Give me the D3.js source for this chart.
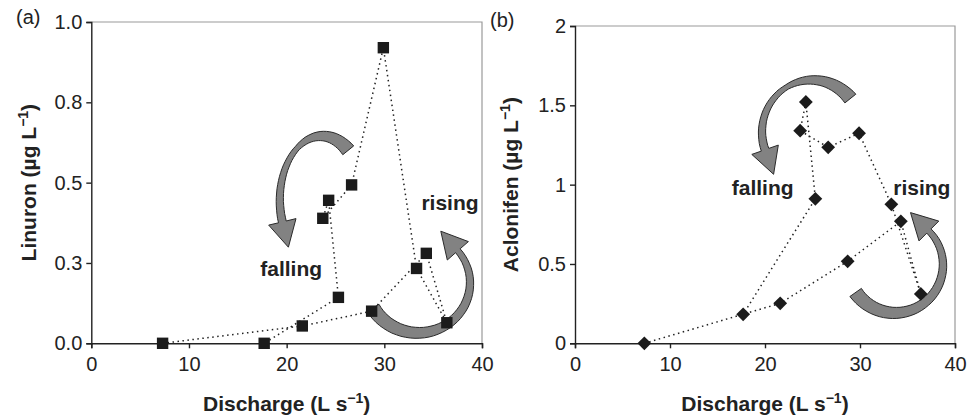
<!DOCTYPE html>
<html>
<head>
<meta charset="utf-8">
<script src="https://cdn.jsdelivr.net/npm/d3@7"></script>
<style>
  body { margin: 0; background: #fff; }
  text { font-family: "Liberation Sans", Arial, sans-serif; fill: #222; }
</style>
</head>
<body>
<div class="chart"></div>
<script>
// sampling order along the storm event (same discharge samples for both panels)
const discharge = [7.3, 21.6, 28.7, 34.3, 36.4, 33.3, 29.9, 26.65, 23.7, 24.3, 25.3, 17.7];
const linuron   = [0, 0.054, 0.10, 0.28, 0.064, 0.233, 0.92, 0.493, 0.389, 0.445, 0.143, 0];
const aclonifen = [0, 0.252, 0.517, 0.769, 0.311, 0.876, 1.324, 1.235, 1.34, 1.521, 0.911, 0.183];

const xTicks = [0, 10, 20, 30, 40];
const linuronTicks = [0, 0.25, 0.5, 0.75, 1];
const linuronTickLabels = ["0.0", "0.3", "0.5", "0.8", "1.0"];
const aclonifenTicks = [0, 0.5, 1, 1.5, 2];
const aclonifenTickLabels = ["0", "0.5", "1", "1.5", "2"];

const width = 974, height = 417;

const svg = d3.select(".chart").append("svg")
    .attr("width", width)
    .attr("height", height);

// curved block arrow around an ellipse, angles in degrees
function arrowPath(cx, cy, rx, ry, a0, a1, w0, wm, w1, headW, headL) {
    const n = 40, outer = [], inner = [];
    const dir = a1 < a0 ? -1 : 1;
    let pe, ne, te;
    for (let i = 0; i <= n; i++) {
        const t = i / n;
        const th = (a0 + (a1 - a0) * t) * Math.PI / 180;
        const p = [cx + rx * Math.cos(th), cy + ry * Math.sin(th)];
        let nx = Math.cos(th) / rx, ny = Math.sin(th) / ry;
        const nl = Math.hypot(nx, ny);
        nx /= nl; ny /= nl;
        const w = t < 0.5 ? w0 + (wm - w0) * t / 0.5 : wm + (w1 - wm) * (t - 0.5) / 0.5;
        outer.push([p[0] + nx * w / 2, p[1] + ny * w / 2]);
        inner.push([p[0] - nx * w / 2, p[1] - ny * w / 2]);
        if (i === n) {
            pe = p; ne = [nx, ny];
            let tx = dir * -rx * Math.sin(th), ty = dir * ry * Math.cos(th);
            const tl = Math.hypot(tx, ty);
            te = [tx / tl, ty / tl];
        }
    }
    const ear1 = [pe[0] + ne[0] * headW, pe[1] + ne[1] * headW];
    const ear2 = [pe[0] - ne[0] * headW, pe[1] - ne[1] * headW];
    const tip = [pe[0] + te[0] * headL, pe[1] + te[1] * headL];
    const pts = outer.concat([ear1, tip, ear2], inner.reverse());
    return "M" + pts.map(p => p[0].toFixed(1) + "," + p[1].toFixed(1)).join("L") + "Z";
}

function panel(opt) {
    const x = d3.scaleLinear().domain([0, 40]).range(opt.xRange);
    const y = d3.scaleLinear().domain(opt.yDomain).range(opt.yRange);
    const g = svg.append("g");

    // grey frame on top and right
    g.append("path")
        .attr("d", `M${x(0)},${y(opt.yDomain[1])}H${x(40)}V${y(0)}`)
        .attr("fill", "none")
        .attr("stroke", "#9a9a9a")
        .attr("stroke-width", 1.2);

    g.append("g")
        .attr("transform", `translate(0,${y(0)})`)
        .call(d3.axisBottom(x).tickValues(xTicks).tickSize(5).tickPadding(9).tickFormat(d3.format("d")))
        .call(a => a.selectAll("path, line").attr("stroke", "#222").attr("stroke-width", 1.4))
        .call(a => a.selectAll("text").attr("font-size", 20).attr("font-family", null).attr("fill", "#222"));

    g.append("g")
        .attr("transform", `translate(${x(0)},0)`)
        .call(d3.axisLeft(y).tickValues(opt.yTicks).tickSize(5).tickPadding(4)
            .tickFormat((d, i) => opt.yLabels[i]))
        .call(a => a.selectAll("path, line").attr("stroke", "#222").attr("stroke-width", 1.4))
        .call(a => a.selectAll("text").attr("font-size", 20).attr("font-family", null).attr("fill", "#222"));

    // x title
    const xt = g.append("text")
        .attr("x", (x(0) + x(40)) / 2)
        .attr("y", 411)
        .attr("text-anchor", "middle")
        .attr("font-size", 21)
        .attr("font-weight", "bold")
        .text("Discharge (L s");
    xt.append("tspan").attr("font-size", 14).attr("dy", -8).text("−1");
    xt.append("tspan").attr("dy", 8).text(")");

    // y title
    const yt = g.append("text")
        .attr("transform", `translate(${opt.yTitleX},${(y.range()[0] + y.range()[1]) / 2}) rotate(-90)`)
        .attr("text-anchor", "middle")
        .attr("font-size", 21)
        .attr("font-weight", "bold")
        .text(opt.yTitle + " (µg L");
    yt.append("tspan").attr("font-size", 14).attr("dy", -8).text("−1");
    yt.append("tspan").attr("dy", 8).text(")");

    g.append("text")
        .attr("x", opt.tag[0])
        .attr("y", opt.tag[1])
        .attr("font-size", 20)
        .text(opt.tagText);

    // hysteresis arrows
    g.selectAll(".arrow")
        .data(opt.arrows)
        .join("path")
        .attr("class", "arrow")
        .attr("d", a => arrowPath(x(a.c[0]), y(a.c[1]), a.rx, a.ry, a.a0, a.a1, 14, a.wm, a.w1, 14, 26))
        .attr("fill", "#828282")
        .attr("stroke", "#2a2a2a")
        .attr("stroke-width", 1)
        .attr("stroke-linejoin", "round");

    g.selectAll(".lab")
        .data(opt.labels)
        .join("text")
        .attr("class", "lab")
        .attr("x", d => x(d.at[0]))
        .attr("y", d => y(d.at[1]))
        .attr("font-size", 21)
        .attr("font-weight", "bold")
        .text(d => d.text);

    const pts = discharge.map((d, i) => [d, opt.values[i]]);

    g.append("path")
        .datum(pts)
        .attr("d", d3.line().x(d => x(d[0])).y(d => y(d[1])))
        .attr("fill", "none")
        .attr("stroke", "#222")
        .attr("stroke-width", 1.5)
        .attr("stroke-dasharray", "1.5,3.5");

    g.selectAll(".pt")
        .data(pts)
        .join("path")
        .attr("class", "pt")
        .attr("transform", d => `translate(${x(d[0])},${y(d[1])}) rotate(${opt.rotate})`)
        .attr("d", d3.symbol().type(d3.symbolSquare).size(opt.size))
        .attr("fill", "#1b1b1b");
}

panel({
    values: linuron,
    xRange: [91.3, 482],
    yDomain: [0, 1],
    yRange: [343.3, 22],
    yTicks: linuronTicks,
    yLabels: linuronTickLabels,
    yTitle: "Linuron",
    yTitleX: 35.5,
    tag: [16, 24],
    tagText: "(a)",
    rotate: 0,
    size: 130,
    arrows: [
        { c: [23.6, 0.446], rx: 42, ry: 64, a0: -51, a1: -200, wm: 5, w1: 8 },
        { c: [33.45, 0.188], rx: 52, ry: 50, a0: 150, a1: -40, wm: 9, w1: 6 }
    ],
    labels: [
        { text: "falling", at: [17.3, 0.209] },
        { text: "rising", at: [33.8, 0.415] }
    ]
});

panel({
    values: aclonifen,
    xRange: [575, 955],
    yDomain: [0, 2],
    yRange: [343.3, 26],
    yTicks: aclonifenTicks,
    yLabels: aclonifenTickLabels,
    yTitle: "Aclonifen",
    yTitleX: 518,
    tag: [490, 27],
    tagText: "(b)",
    rotate: 45,
    size: 95,
    arrows: [
        { c: [24.95, 1.332], rx: 50, ry: 52, a0: -40, a1: -200, wm: 5, w1: 8 },
        { c: [33.68, 0.494], rx: 48, ry: 48, a0: 145, a1: -45, wm: 9, w1: 6 }
    ],
    labels: [
        { text: "falling", at: [16.5, 0.935] },
        { text: "rising", at: [33.5, 0.935] }
    ]
});
</script>
</body>
</html>
